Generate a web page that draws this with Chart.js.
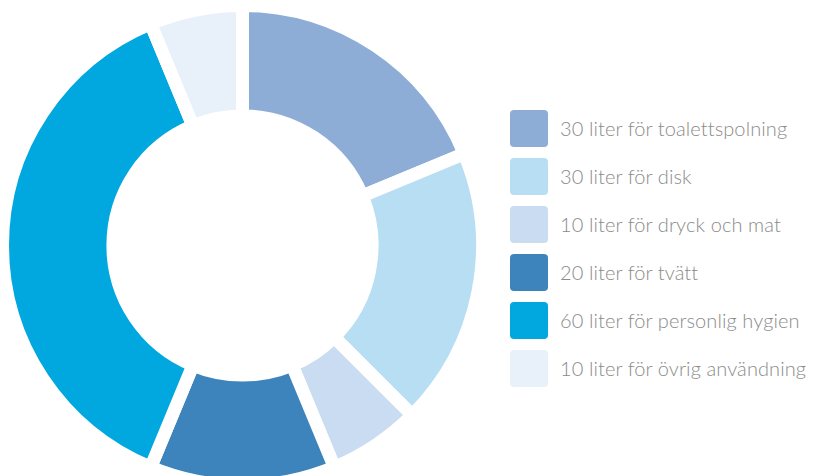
<!DOCTYPE html>
<html>
<head>
<meta charset="utf-8">
<script src="https://cdn.jsdelivr.net/npm/chart.js@4.4.0/dist/chart.umd.min.js"></script>
<style>
    html, body { margin: 0; padding: 0; background: #fff; width: 828px; height: 476px; overflow: hidden; }
    #chartBox { position: absolute; left: -4px; top: -1px; width: 493px; height: 493px; }
    #legend { position: absolute; left: 510px; top: 110px; margin: 0; padding: 0; list-style: none;
        font-family: Lato, "Open Sans", sans-serif; font-weight: 300; font-size: 20px; color: #8b8b89; }
    #legend li { height: 48px; display: flex; align-items: flex-start; }
    #legend .box { width: 38px; height: 37px; border-radius: 4px; margin-right: 12px; flex: none; }
    #legend .txt { line-height: 37px; white-space: nowrap; letter-spacing: 0.1px; }
</style>
</head>
<body>
<div id="chartBox"><canvas id="waterChart"></canvas></div>
<ul id="legend"></ul>
<script>
const categories = [
    '30 liter för toalettspolning',
    '30 liter för disk',
    '10 liter för dryck och mat',
    '20 liter för tvätt',
    '60 liter för personlig hygien',
    '10 liter för övrig användning'
];
const liters = [30, 30, 10, 20, 60, 10];
const sliceColors = ['#8dadd6', '#b8def3', '#c9dcf1', '#3d84bc', '#00a8df', '#e8f1fa'];

function buildLegend() {
    const list = document.getElementById('legend');
    categories.forEach((label, i) => {
        const li = document.createElement('li');
        const box = document.createElement('span');
        box.className = 'box';
        box.style.background = sliceColors[i];
        const txt = document.createElement('span');
        txt.className = 'txt';
        txt.textContent = label;
        li.appendChild(box);
        li.appendChild(txt);
        list.appendChild(li);
    });
}

document.addEventListener('DOMContentLoaded', function() {
    buildLegend();
    const ctx = document.getElementById('waterChart').getContext('2d');
    new Chart(ctx, {
        type: 'doughnut',
        data: {
            labels: categories,
            datasets: [{
                data: liters,
                backgroundColor: sliceColors,
                borderColor: '#ffffff',
                borderWidth: 13,
                borderJoinStyle: 'miter'
            }]
        },
        options: {
            responsive: true,
            maintainAspectRatio: false,
            animation: false,
            cutout: '54%',
            plugins: {
                legend: { display: false },
                tooltip: { enabled: false }
            }
        }
    });
});
</script>
</body>
</html>
